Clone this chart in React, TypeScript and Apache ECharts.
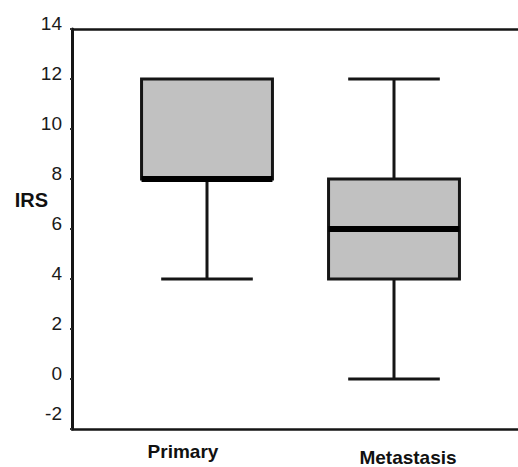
import React, { useEffect, useRef } from "react";
import * as echarts from "echarts";

const categories = ["Primary", "Metastasis"];
const mins = [4, 0];
const q1s = [8, 4];
const medians = [8, 6];
const q3s = [12, 8];
const maxs = [12, 12];
const yTicks = { min: -2, max: 14, interval: 2 };

const FONT = "'Liberation Sans', Arial, sans-serif";
const INK = "#151515";

export default function App() {
  const ref = useRef<HTMLDivElement>(null);
  useEffect(() => {
    if (!ref.current) return;
    const chart = echarts.init(ref.current, undefined, { renderer: "svg" });
    const data = categories.map((c, i) => [i + 1, mins[i], q1s[i], medians[i], q3s[i], maxs[i]]);
    const xMin = 1 - 135 / 187;
    const xMax = xMin + 446 / 187;
    const BOX_W = 0.7;
    const CAP_W = 0.49;
    chart.setOption({
      animation: false,
      backgroundColor: "#ffffff",
      grid: { left: 72, right: 0, top: 29, bottom: 38, containLabel: false },
      xAxis: [
        {
          type: "value",
          min: xMin,
          max: xMax,
          position: "bottom",
          splitLine: { show: false },
          axisTick: { show: false },
          axisLine: { show: true, onZero: false, lineStyle: { color: INK, width: 2.5 } },
          axisLabel: {
            show: true,
            customValues: [1, 2],
            margin: 13,
            color: "#111",
            fontFamily: FONT,
            fontWeight: "bold",
            fontSize: 19,
            formatter: (v: number) => (Math.round(v) === 1 ? "{p|" + categories[0] + "}" : "{m|" + categories[1] + "}"),
            rich: {
              p: { fontFamily: FONT, fontWeight: "bold", fontSize: 19, color: "#111", padding: [0, 48, 0, 0] },
              m: { fontFamily: FONT, fontWeight: "bold", fontSize: 19, color: "#111", padding: [6, 0, 0, 28] },
            },
          },
        },
        {
          type: "value",
          min: xMin,
          max: xMax,
          position: "top",
          splitLine: { show: false },
          axisTick: { show: false },
          axisLabel: { show: false },
          axisLine: { show: true, onZero: false, lineStyle: { color: INK, width: 2.5 } },
        },
      ],
      yAxis: {
        type: "value",
        min: yTicks.min,
        max: yTicks.max,
        interval: yTicks.interval,
        name: "{a|IRS}",
        nameLocation: "middle",
        nameRotate: 0,
        nameGap: 24,
        nameMoveOverlap: false,
        nameTextStyle: {
          fontFamily: FONT,
          fontWeight: "bold",
          fontSize: 20,
          color: "#111",
          rich: {
            a: { fontFamily: FONT, fontWeight: "bold", fontSize: 20, color: "#111", padding: [0, 0, 58, 0] },
          },
        },
        splitLine: { show: false },
        axisLine: { show: true, lineStyle: { color: INK, width: 3 } },
        axisTick: { show: true, inside: false, length: 2, lineStyle: { color: "#333", width: 2 } },
        axisLabel: {
          margin: 10,
          fontFamily: FONT,
          fontSize: 19,
          color: "#1a1a1a",
          verticalAlign: "middle",
          padding: [0, 0, 12, 0],
          formatter: (v: number) => (v === -2 ? "{n|-2}" : String(v)),
          rich: {
            n: { fontFamily: FONT, fontSize: 19, color: "#1a1a1a", padding: [0, 0, 19, 0] },
          },
        },
      },
      series: [
        {
          type: "custom",
          xAxisIndex: 0,
          yAxisIndex: 0,
          data,
          encode: { x: 0, y: [1, 2, 3, 4, 5] },
          renderItem: (params: any, api: any) => {
            const x = api.value(0);
            const pMin = api.coord([x, api.value(1)]);
            const pQ1 = api.coord([x, api.value(2)]);
            const pMed = api.coord([x, api.value(3)]);
            const pQ3 = api.coord([x, api.value(4)]);
            const pMax = api.coord([x, api.value(5)]);
            const half = api.size([BOX_W, 0])[0] / 2;
            const capHalf = api.size([CAP_W, 0])[0] / 2;
            const cx = pMin[0];
            const lineStyle = { stroke: INK, lineWidth: 3, fill: null };
            const children: any[] = [];
            children.push({ type: "line", shape: { x1: cx, y1: pMin[1], x2: cx, y2: pQ1[1] }, style: lineStyle });
            children.push({ type: "line", shape: { x1: cx, y1: pQ3[1], x2: cx, y2: pMax[1] }, style: lineStyle });
            if (Math.abs(pMin[1] - pQ1[1]) > 0.5)
              children.push({ type: "line", shape: { x1: cx - capHalf, y1: pMin[1], x2: cx + capHalf, y2: pMin[1] }, style: lineStyle });
            if (Math.abs(pMax[1] - pQ3[1]) > 0.5)
              children.push({ type: "line", shape: { x1: cx - capHalf, y1: pMax[1], x2: cx + capHalf, y2: pMax[1] }, style: lineStyle });
            children.push({
              type: "rect",
              shape: { x: cx - half, y: pQ3[1], width: half * 2, height: pQ1[1] - pQ3[1] },
              style: { fill: "#c1c1c1", stroke: INK, lineWidth: 3 },
            });
            children.push({
              type: "line",
              shape: { x1: cx - half, y1: pMed[1], x2: cx + half, y2: pMed[1] },
              style: { stroke: "#000", lineWidth: 6 },
            });
            return { type: "group", children };
          },
        },
      ],
    });
    return () => chart.dispose();
  }, []);
  return (
    <div
      ref={ref}
      style={{ position: "fixed", left: 0, top: 0, width: 518, height: 467, background: "#fff" }}
    />
  );
}
